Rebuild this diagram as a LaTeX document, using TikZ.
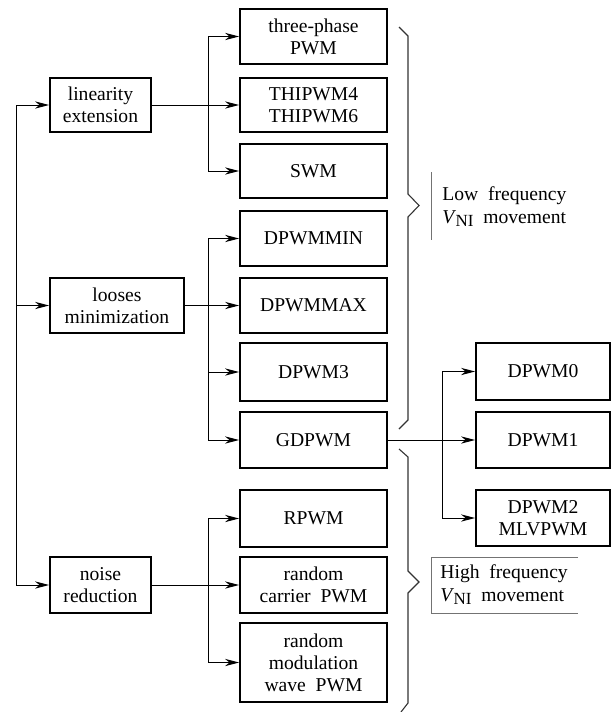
\documentclass[tikz,border=0pt]{standalone}
\usepackage{fontspec}
\setmainfont{Liberation Serif}
\usetikzlibrary{arrows.meta}
\tikzset{
  box/.style={draw, line width=0.9pt, rectangle, align=center, inner sep=0pt,
    font=\fontsize{9.8}{11}\selectfont},
  lbox/.style={box, minimum width=50.5pt},
  mbox/.style={box, minimum width=73.5pt},
  rbox/.style={box, minimum width=67pt},
  conn/.style={line width=0.5pt},
  arr/.style={conn, -{Stealth[length=7pt,width=3.6pt,inset=2.2pt]}},
  brace/.style={line width=0.55pt, black!80},
  lbl/.style={align=left, anchor=west, inner sep=0pt, font=\fontsize{9.8}{11.5}\selectfont}
}
\newcommand{\vni}{\textit{V}\kern-0.3pt\raisebox{-0.35ex}{\fontsize{8.5}{9}\selectfont NI}}
\begin{document}
\begin{tikzpicture}[x=0.5pt,y=-0.5pt]
\useasboundingbox (0,0) rectangle (611,712);
% left boxes
\node[lbox, minimum height=27pt] (lin) at (100.5,105) {linearity\\extension};
\node[box, minimum width=67pt, minimum height=27.5pt] (loo) at (117,305.5) {looses\\minimization};
\node[lbox, minimum height=28pt] (noi) at (100.5,585) {noise\\reduction};
% middle boxes
\node[mbox, minimum height=27.5pt] (tp) at (313.5,36.5) {three-phase\\PWM};
\node[mbox, minimum height=27pt] (thi) at (313.5,105) {THIPWM4\\THIPWM6};
\node[mbox, minimum height=27pt] (swm) at (313.5,171) {SWM};
\node[mbox, minimum height=27.5pt] (dmin) at (313.5,238.5) {DPWMMIN};
\node[mbox, minimum height=27.5pt] (dmax) at (313.5,305.5) {DPWMMAX};
\node[mbox, minimum height=29pt] (d3) at (313.5,372) {DPWM3};
\node[mbox, minimum height=28pt] (gd) at (313.5,440) {GDPWM};
\node[mbox, minimum height=28.5pt] (rp) at (313.5,518.5) {RPWM};
\node[mbox, minimum height=28pt] (rc) at (313.5,585) {random\\carrier~~PWM};
\node[mbox, minimum height=39.5pt] (rm) at (313.5,662.5) {random\\modulation\\wave~~PWM};
% right boxes
\node[rbox, minimum height=28.5pt] (d0) at (543,371.5) {DPWM0};
\node[rbox, minimum height=28pt] (d1) at (543,440) {DPWM1};
\node[rbox, minimum height=28pt] (d2) at (543,518) {DPWM2\\MLVPWM};
% left trunk
\coordinate (t1) at (16,105);
\coordinate (t2) at (16,305.5);
\coordinate (t3) at (16,585);
\draw[conn] (t1) -- (t3);
\draw[arr] (t1) -- (lin.west);
\draw[arr] (t2) -- (loo.west);
\draw[arr] (t3) -- (noi.west);
% group 1
\coordinate (ja) at (208,105);
\draw[conn] (lin.east) -- (ja);
\draw[arr] (ja) |- (tp.west);
\draw[arr] (ja) -- (thi.west);
\draw[arr] (ja) |- (swm.west);
% group 2
\coordinate (jb) at (208,305.5);
\draw[conn] (loo.east) -- (jb);
\draw[arr] (jb) |- (dmin.west);
\draw[arr] (jb) -- (dmax.west);
\draw[arr] (jb) |- (d3.west);
\draw[arr] (jb) |- (gd.west);
% group 3
\coordinate (jc) at (208,585);
\draw[conn] (noi.east) -- (jc);
\draw[arr] (jc) |- (rp.west);
\draw[arr] (jc) -- (rc.west);
\draw[arr] (jc) |- (rm.west);
% group 4
\coordinate (jd) at (442,440);
\draw[conn] (gd.east) -- (jd);
\draw[arr] (jd) |- (d0.west);
\draw[arr] (jd) -- (d1.west);
\draw[arr] (jd) |- (d2.west);
% braces
\draw[brace] (399,27) -- (408,36) -- (408,194) -- (419,205.5) -- (408,217) -- (408,420) -- (399,429);
\draw[brace] (399,449) -- (408,457) -- (408,571) -- (419,582) -- (408,593) -- (408,703) -- (401,712);
% labels
\draw[line width=0.5pt, black!55] (431,172) -- (431,240);
\node[lbl] (low) at (442,207) {Low~~frequency\\\vni~~movement};
\draw[line width=0.5pt, black!55] (578,557) -- (431,557) -- (431,613) -- (578,613);
\node[lbl] (high) at (440,585) {High~~frequency\\\vni~~movement};
\end{tikzpicture}
\end{document}
